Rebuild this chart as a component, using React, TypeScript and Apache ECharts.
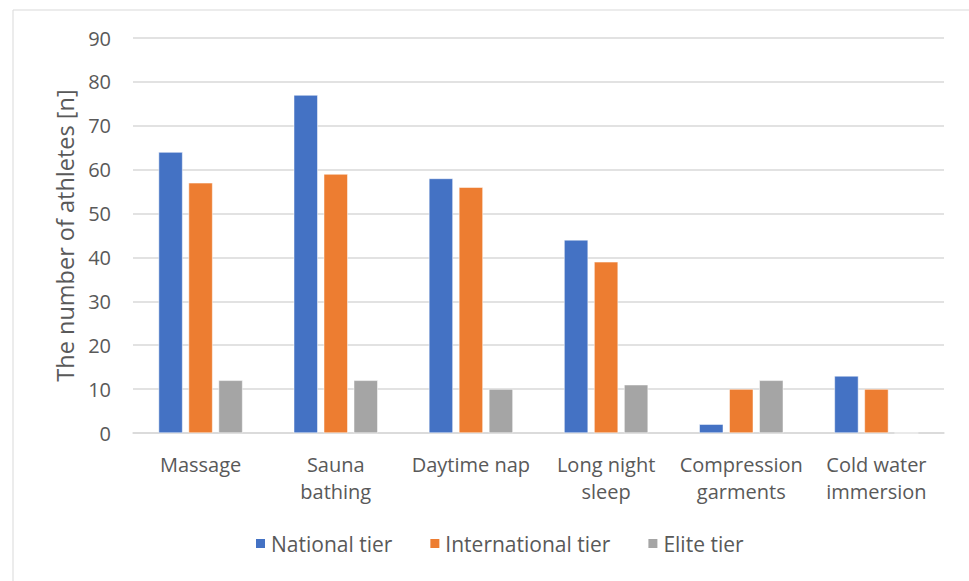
import React, { useEffect, useRef } from "react";
import * as echarts from "echarts";

const categories = ["Massage", "Sauna\nbathing", "Daytime nap", "Long night\nsleep", "Compression\ngarments", "Cold water\nimmersion"];
const nationalTier = [64, 77, 58, 44, 2, 13];
const internationalTier = [57, 59, 56, 39, 10, 10];
const eliteTier = [12, 12, 10, 11, 12, 0];
const seriesNames = ["National tier", "International tier", "Elite tier"];
const colors = ["#4472C4", "#ED7D31", "#A5A5A5"];

const FONT = "'Open Sans', 'Noto Sans', sans-serif";

export default function App() {
  const ref = useRef<HTMLDivElement>(null);
  useEffect(() => {
    const chart = echarts.init(ref.current!, null, { renderer: "svg" });
    const values = [nationalTier, internationalTier, eliteTier];
    chart.setOption({
      animation: false,
      backgroundColor: "#ffffff",
      textStyle: { fontFamily: FONT },
      graphic: [
        {
          type: "rect",
          shape: { x: 13, y: 10, width: 1000, height: 700 },
          style: { fill: "none", stroke: "#d9d9d9", lineWidth: 1 },
          silent: true,
        },
      ],
      grid: { left: 133, right: 25, top: 38, bottom: 148, containLabel: false },
      legend: {
        data: seriesNames,
        bottom: 22,
        left: 249,
        itemWidth: 11,
        itemHeight: 11,
        itemGap: 36,
        icon: "rect",
        textStyle: { fontFamily: FONT, fontSize: 21, color: "#595959" },
      },
      xAxis: {
        type: "category",
        data: categories,
        axisLine: { lineStyle: { color: "#d9d9d9", width: 1.5 } },
        axisTick: { show: false },
        axisLabel: {
          interval: 0,
          margin: 18,
          fontFamily: FONT,
          fontSize: 20,
          lineHeight: 27,
          color: "#595959",
        },
      },
      yAxis: {
        type: "value",
        min: 0,
        max: 90,
        interval: 10,
        name: "The number of athletes [n]",
        nameLocation: "middle",
        nameGap: 56,
        nameTextStyle: { fontFamily: FONT, fontSize: 23.5, color: "#595959" },
        axisLine: { show: false },
        axisTick: { show: false },
        splitLine: { lineStyle: { color: "#d9d9d9", width: 1.5 } },
        axisLabel: { fontFamily: FONT, fontSize: 20, color: "#595959", margin: 22 },
      },
      series: seriesNames.map((name, i) => ({
        name,
        type: "bar",
        data: values[i],
        barWidth: 24,
        barGap: "25%",
        itemStyle: { color: colors[i], borderColor: "#ffffff", borderWidth: 0.5 },
      })),
    });
    return () => chart.dispose();
  }, []);
  return <div ref={ref} style={{ position: "fixed", left: 0, top: 0, width: 969, height: 581 }} />;
}
